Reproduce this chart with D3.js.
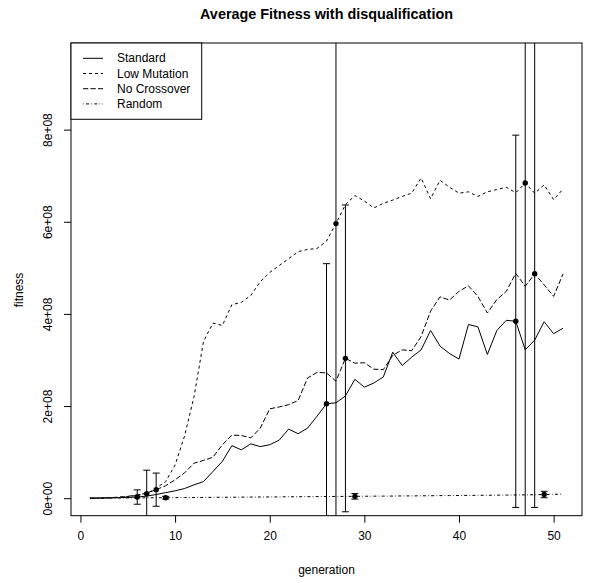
<!DOCTYPE html>
<html><head><meta charset="utf-8">
<script src="https://cdn.jsdelivr.net/npm/d3@7"></script>
<style>
body{margin:0;background:#fff}
svg{display:block}
text{font-family:"Liberation Sans",Arial,Helvetica,sans-serif;fill:#000}
</style>
</head><body>
<svg id="chart" width="591" height="583"></svg>
<script>
// ---- data (fitness in units of 1e8) ----
const generations = [1,2,3,4,5,6,7,8,9,10,11,12,13,14,15,16,17,18,19,20,21,22,23,24,25,26,27,28,29,30,31,32,33,34,35,36,37,38,39,40,41,42,43,44,45,46,47,48,49,50,51];
const standard = [0,0.003,0.006,0.01,0.017,0.025,0.045,0.08,0.12,0.16,0.21,0.29,0.36,0.58,0.80,1.14,1.05,1.18,1.12,1.16,1.26,1.50,1.40,1.52,1.78,2.05,2.07,2.22,2.58,2.41,2.50,2.63,3.17,2.88,3.06,3.22,3.64,3.30,3.14,3.02,3.77,3.72,3.12,3.64,3.86,3.84,3.22,3.43,3.83,3.57,3.69];
const lowMutation = [0,0.004,0.01,0.02,0.035,0.06,0.098,0.22,0.36,0.72,1.35,2.2,3.4,3.8,3.75,4.2,4.25,4.4,4.7,4.9,5.05,5.2,5.35,5.4,5.42,5.58,5.96,6.37,6.57,6.45,6.3,6.4,6.47,6.55,6.62,6.95,6.5,6.9,6.75,6.62,6.65,6.55,6.65,6.7,6.75,6.63,6.84,6.62,6.8,6.48,6.71];
const noCrossover = [0,0.003,0.01,0.02,0.04,0.07,0.11,0.185,0.27,0.40,0.55,0.76,0.82,0.89,1.16,1.37,1.36,1.31,1.52,1.94,1.98,2.03,2.12,2.61,2.73,2.72,2.54,3.035,2.93,2.94,2.80,2.79,3.10,3.22,3.20,3.51,4.06,4.37,4.30,4.49,4.61,4.38,4.02,4.31,4.49,4.88,4.60,4.87,4.63,4.38,4.87];
const random = [0,0.001,0.002,0.004,0.005,0.007,0.009,0.01,0.01,0.012,0.014,0.015,0.016,0.019,0.02,0.021,0.023,0.024,0.026,0.027,0.028,0.031,0.032,0.033,0.035,0.036,0.038,0.039,0.04,0.042,0.044,0.045,0.046,0.049,0.05,0.052,0.053,0.056,0.057,0.058,0.061,0.062,0.064,0.066,0.067,0.07,0.072,0.075,0.08,0.084,0.088];
const seriesNames = ["Standard","Low Mutation","No Crossover","Random"];
const seriesData = [standard, lowMutation, noCrossover, random];
// error bars: generation, series index, standard deviation (1e8)
const errGen = [6,7,8,9,26,27,28,29,46,47,48,49];
const errSeries = [0,1,2,3,0,1,2,3,0,1,2,3];
const errSd = [0.156,0.51,0.36,0.03,3.04,7.0,3.33,0.06,4.04,8.0,5.07,0.07];
const xTicks = [0,10,20,30,40,50];
const yTicks = [0,2,4,6,8];
const yTickLabels = ["0e+00","2e+08","4e+08","6e+08","8e+08"];
const yLimits = [0, 9.5];
const titleText = "Average Fitness with disqualification";
const xLabel = "generation";
const yLabel = "fitness";

// ---- layout ----
const W = 591, H = 583;
const plot = {left:71, right:582, top:43, bottom:515.7};
const dashes = ["none","3,3","5.25,2.25","0.75,2.25,3,2.25"];

const svg = d3.select("#chart");
const xExt = d3.extent(generations), xPad = (xExt[1]-xExt[0])*0.04;
const yPad = (yLimits[1]-yLimits[0])*0.04;
const x = d3.scaleLinear().domain([xExt[0]-xPad, xExt[1]+xPad]).range([plot.left, plot.right]);
const y = d3.scaleLinear().domain([yLimits[0]-yPad, yLimits[1]+yPad]).range([plot.bottom, plot.top]);

svg.append("defs").append("clipPath").attr("id","clip")
  .append("rect").attr("x",plot.left).attr("y",plot.top)
  .attr("width",plot.right-plot.left).attr("height",plot.bottom-plot.top);

const g = svg.append("g").attr("clip-path","url(#clip)");

const line = d3.line().x((d,i)=>x(generations[i])).y(d=>y(d));
seriesData.forEach((s,k)=>{
  g.append("path").datum(s).attr("d",line)
    .attr("fill","none").attr("stroke","#000").attr("stroke-width",1)
    .attr("stroke-dasharray",dashes[k]);
});

// error bars
const cap = 3.5;
errGen.forEach((gen,i)=>{
  const s = seriesData[errSeries[i]];
  const m = s[generations.indexOf(gen)];
  const sd = errSd[i];
  const cx = x(gen), y0 = y(m-sd), y1 = y(m+sd);
  g.append("line").attr("x1",cx).attr("x2",cx).attr("y1",y0).attr("y2",y1)
    .attr("stroke","#000").attr("stroke-width",1);
  [y0,y1].forEach(yy=>{
    g.append("line").attr("x1",cx-cap).attr("x2",cx+cap).attr("y1",yy).attr("y2",yy)
      .attr("stroke","#000").attr("stroke-width",1);
  });
  g.append("circle").attr("cx",cx).attr("cy",y(m)).attr("r",2.7).attr("fill","#000");
});

// box
svg.append("rect").attr("x",plot.left).attr("y",plot.top)
  .attr("width",plot.right-plot.left).attr("height",plot.bottom-plot.top)
  .attr("fill","none").attr("stroke","#000").attr("stroke-width",1);

// x axis
const xAxis = d3.axisBottom(x).tickValues(xTicks).tickSize(7).tickPadding(9).tickFormat(d3.format("d"));
const xg = svg.append("g").attr("transform",`translate(0,${plot.bottom})`).call(xAxis);
xg.select(".domain").remove();
xg.selectAll("text").attr("font-size",12).attr("font-family","Liberation Sans, Arial, sans-serif");

// y axis
const yAxis = d3.axisLeft(y).tickValues(yTicks).tickSize(7).tickFormat((d,i)=>yTickLabels[i]);
const yg = svg.append("g").attr("transform",`translate(${plot.left},0)`).call(yAxis);
yg.select(".domain").remove();
yg.selectAll("text").attr("font-size",12).attr("font-family","Liberation Sans, Arial, sans-serif")
  .attr("x",null).attr("dy",null)
  .attr("transform",d=>`translate(${48-plot.left},0) rotate(-90)`)
  .attr("text-anchor","middle").attr("dominant-baseline","central");

// labels
svg.append("text").attr("x",(plot.left+plot.right)/2).attr("y",14)
  .attr("text-anchor","middle").attr("dominant-baseline","central")
  .attr("font-size",14.4).attr("font-weight","bold").text(titleText);
svg.append("text").attr("x",(plot.left+plot.right)/2).attr("y",570)
  .attr("text-anchor","middle").attr("dominant-baseline","central")
  .attr("font-size",12).text(xLabel);
svg.append("text").attr("transform",`translate(19,290) rotate(-90)`)
  .attr("text-anchor","middle").attr("dominant-baseline","central")
  .attr("font-size",12).text(yLabel);

// legend
const lg = svg.append("g");
lg.append("rect").attr("x",plot.left).attr("y",plot.top).attr("width",130.7).attr("height",76.3)
  .attr("fill","#fff").attr("stroke","#000").attr("stroke-width",1);
seriesNames.forEach((name,k)=>{
  const ry = 58.3 + k*15.2;
  lg.append("line").attr("x1",83).attr("x2",103).attr("y1",ry).attr("y2",ry)
    .attr("stroke","#000").attr("stroke-width",1).attr("stroke-dasharray",dashes[k]);
  lg.append("text").attr("x",117).attr("y",ry).attr("dominant-baseline","central")
    .attr("font-size",12).text(name);
});
</script>
</body></html>
